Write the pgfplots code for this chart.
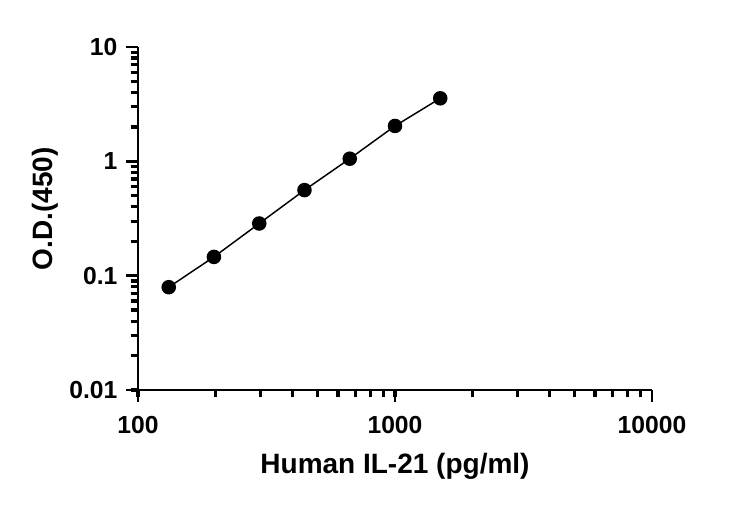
\documentclass[border=0pt]{standalone}
\usepackage{pgfplots}
\pgfplotsset{compat=1.18}
\usepackage{fontspec}
\setmainfont{Liberation Sans}
\begin{document}
\begin{tikzpicture}
\path[use as bounding box] (-103.5pt,-87.75pt) rectangle (445.5pt,292.5pt);
\begin{axis}[
  at={(0pt,0pt)}, anchor=south west,
  scale only axis,
  width=385.5pt, height=257.25pt,
  xmode=log, ymode=log,
  xmin=100, xmax=10000, ymin=0.01, ymax=10,
  axis x line*=bottom, axis y line*=left,
  every outer x axis line/.append style={-},
  every outer y axis line/.append style={-},
  axis line style={line width=2.2pt},
  tick align=outside,
  major tick length=9pt, minor tick length=5.5pt,
  every tick/.style={black, line width=2.2pt},
  minor tick style={line width=2.4pt},
  xtick={100,1000,10000}, xticklabels={100,1000,10000},
  ytick={0.01,0.1,1,10}, yticklabels={0.01,0.1,1,10},
  /pgf/number format/assume math mode=true,
  tick label style={font=\fontsize{18.5}{22}\selectfont\bfseries},
  xticklabel style={yshift=-7pt},
  yticklabel style={xshift=-3pt},
  xlabel={Human IL-21 (pg/ml)},
  ylabel={O.D.(450)},
  label style={font=\fontsize{21}{25}\selectfont\bfseries},
  xlabel style={at={(rel axis cs:0.5,0)}, anchor=center, yshift=-57.5pt},
  ylabel style={at={(rel axis cs:0,0.528)}, anchor=center, yshift=69.5pt},
  clip=false,
]
\addplot[black, line width=1.1pt, mark=*, mark size=4.9pt, mark options={solid, fill=black}]
coordinates {
(131.7,0.0793)
(197.5,0.146)
(296.3,0.286)
(444.4,0.560)
(666.7,1.055)
(1000,2.04)
(1500,3.56)
};
\end{axis}
\end{tikzpicture}
\end{document}
